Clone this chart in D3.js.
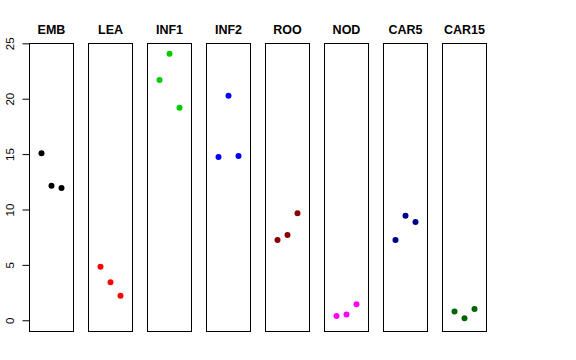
<!DOCTYPE html>
<html><head><meta charset="utf-8">
<script src="https://cdn.jsdelivr.net/npm/d3@7"></script>
<style>body{margin:0;background:#fff}svg{display:block}</style>
</head><body>
<script>
const categories = ["EMB","LEA","INF1","INF2","ROO","NOD","CAR5","CAR15"];
const colors = ["#000000","#FF0000","#00CD00","#0000FF","#8B0000","#FF00FF","#00008B","#006400"];
const values = [
  [15.07, 12.15, 11.94],
  [4.84, 3.43, 2.22],
  [21.69, 24.06, 19.19],
  [14.74, 20.27, 14.83],
  [7.25, 7.70, 9.66],
  [0.39, 0.51, 1.44],
  [7.25, 9.44, 8.87],
  [0.78, 0.18, 1.02]
];
const yTicks = [0, 5, 10, 15, 20, 25];

const W = 576, H = 360;
const svg = d3.select("body").append("svg").attr("width", W).attr("height", H);

const y = d3.scaleLinear().domain([-0.97, 25.03]).range([331, 43]);
const panel = d3.scalePoint().domain(categories).range([29, 29 + 59 * 7]);
const x = d3.scaleLinear().domain([-0.2, 4.2]).range([0, 44]);

categories.forEach((c, i) => {
  const g = svg.append("g").attr("transform", `translate(${Math.round(panel(c))},0)`);
  g.append("rect").attr("x", 0.5).attr("y", Math.round(y.range()[1]) + 0.5)
    .attr("width", 44).attr("height", Math.round(y.range()[0]) - Math.round(y.range()[1]))
    .attr("fill", "none").attr("stroke", "#000").attr("stroke-width", 1);
  g.append("text").attr("x", 22.5).attr("y", 34).attr("text-anchor", "middle")
    .attr("font-family", "Liberation Sans, Arial, sans-serif").attr("font-weight", "bold")
    .attr("font-size", 12.5).text(c);
  g.selectAll("circle").data(values[i]).join("circle")
    .attr("cx", (d, j) => x(j + 1) + 0.5).attr("cy", d => y(d)).attr("r", 3)
    .attr("fill", colors[i]);
});

const axis = d3.axisLeft(y).tickValues(yTicks).tickSize(7).tickPadding(4).tickFormat(d3.format("d"));
const ag = svg.append("g").attr("transform", "translate(29.5,0)").call(axis);
ag.select(".domain").remove();
ag.append("path").attr("d", `M0,${y(0)}V${y(25)}`).attr("stroke", "#000").attr("fill", "none");
ag.selectAll(".tick line").attr("stroke", "#000");
ag.selectAll(".tick text")
  .attr("font-family", "Liberation Sans, Arial, sans-serif").attr("font-size", 11.5).attr("fill", "#000")
  .attr("transform", "rotate(-90)").attr("x", 0).attr("y", -16).attr("dy", "0")
  .attr("text-anchor", "middle");
</script>
</body></html>
